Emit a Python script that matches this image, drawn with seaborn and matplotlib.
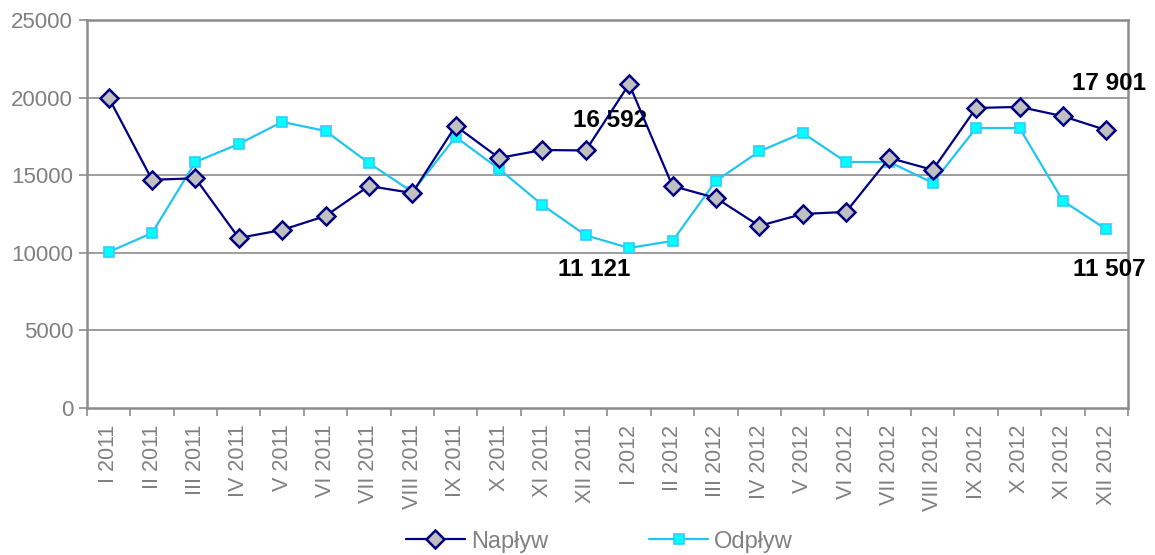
import matplotlib
matplotlib.use("Agg")
import matplotlib.pyplot as plt
import seaborn as sns
import pandas as pd
import numpy as np

months = ["I", "II", "III", "IV", "V", "VI", "VII", "VIII", "IX", "X", "XI", "XII"]
categories = [f"{m} {y}" for y in (2011, 2012) for m in months]

naplyw = [20000, 14700, 14800, 10950, 11470, 12370, 14300, 13850, 18170, 16110, 16620, 16592,
          20870, 14300, 13530, 11730, 12500, 12630, 16110, 15340, 19330, 19400, 18800, 17901]
odplyw = [10050, 11270, 15850, 17010, 18430, 17850, 15780, 13920, 17460, 15400, 13080, 11121,
          10310, 10760, 14630, 16530, 17720, 15850, 15850, 14500, 18040, 18040, 13340, 11507]

annotations = [("16 592", 11.55, 18500), ("11 121", 11.2, 8950),
               ("17 901", 23.07, 20900), ("11 507", 23.07, 8950)]

sns.set_theme(style="white")
plt.rcParams['font.family'] = ['Liberation Sans', 'DejaVu Sans']

fig = plt.figure(figsize=(11.55, 5.55), dpi=100)
ax = fig.add_axes([0.0753, 0.265, 0.9013, 0.699])

df = pd.DataFrame({"cat": categories, "Napływ": naplyw, "Odpływ": odplyw})
df["x"] = np.arange(len(categories))

gridc = "#8c8c8c"
for yv in range(5000, 25001, 5000):
    ax.axhline(yv, color=gridc, lw=1.2, zorder=0)

sns.lineplot(data=df, x="x", y="Odpływ", ax=ax, color="#22C4F0", lw=1.6,
             marker="s", markersize=7.5, markerfacecolor="#00FFFF",
             markeredgecolor="#33CCFF", markeredgewidth=1.2, label="Odpływ", zorder=3)
sns.lineplot(data=df, x="x", y="Napływ", ax=ax, color="#000080", lw=1.6,
             marker="D", markersize=9, markerfacecolor="#C0C0C0",
             markeredgecolor="#000080", markeredgewidth=1.8, label="Napływ", zorder=4)

ax.set_xlim(-0.5, len(categories) - 0.5)
ax.set_ylim(0, 25000)
ax.set_xticks(df["x"])
ax.set_xticklabels(categories, rotation=90, va="top", ha="center",
                   fontsize=15.5, color="#808080")
ax.set_xticks(np.arange(-0.5, len(categories), 1), minor=True)
ax.tick_params(axis="x", which="major", length=0, pad=12)
ax.tick_params(axis="x", which="minor", length=6, width=1.2, color=gridc, direction="out", bottom=True)
ax.set_yticks(range(0, 25001, 5000))
ax.set_yticklabels([str(v) for v in range(0, 25001, 5000)], fontsize=16, color="#808080")
ax.tick_params(axis="y", length=6, width=1.2, color=gridc, direction="out", left=True, pad=4)
ax.set_xlabel("")
ax.set_ylabel("")
for s in ax.spines.values():
    s.set_color(gridc)
    s.set_linewidth(1.8)

for txt, xx, yy in annotations:
    ax.text(xx, yy, txt, ha="center", va="center", fontsize=17.5, fontweight="bold",
            color="black", clip_on=False)

handles, labels = ax.get_legend_handles_labels()
order = [labels.index("Napływ"), labels.index("Odpływ")]
leg = ax.legend([handles[i] for i in order], [labels[i] for i in order],
                loc="center", bbox_to_anchor=(0.519, 0.024), bbox_transform=fig.transFigure,
                ncol=2, frameon=False, fontsize=17, handlelength=2.5,
                columnspacing=4.3, handletextpad=0.25, borderpad=0)
for t in leg.get_texts():
    t.set_color("#808080")

fig.savefig("out.png", dpi=100)
